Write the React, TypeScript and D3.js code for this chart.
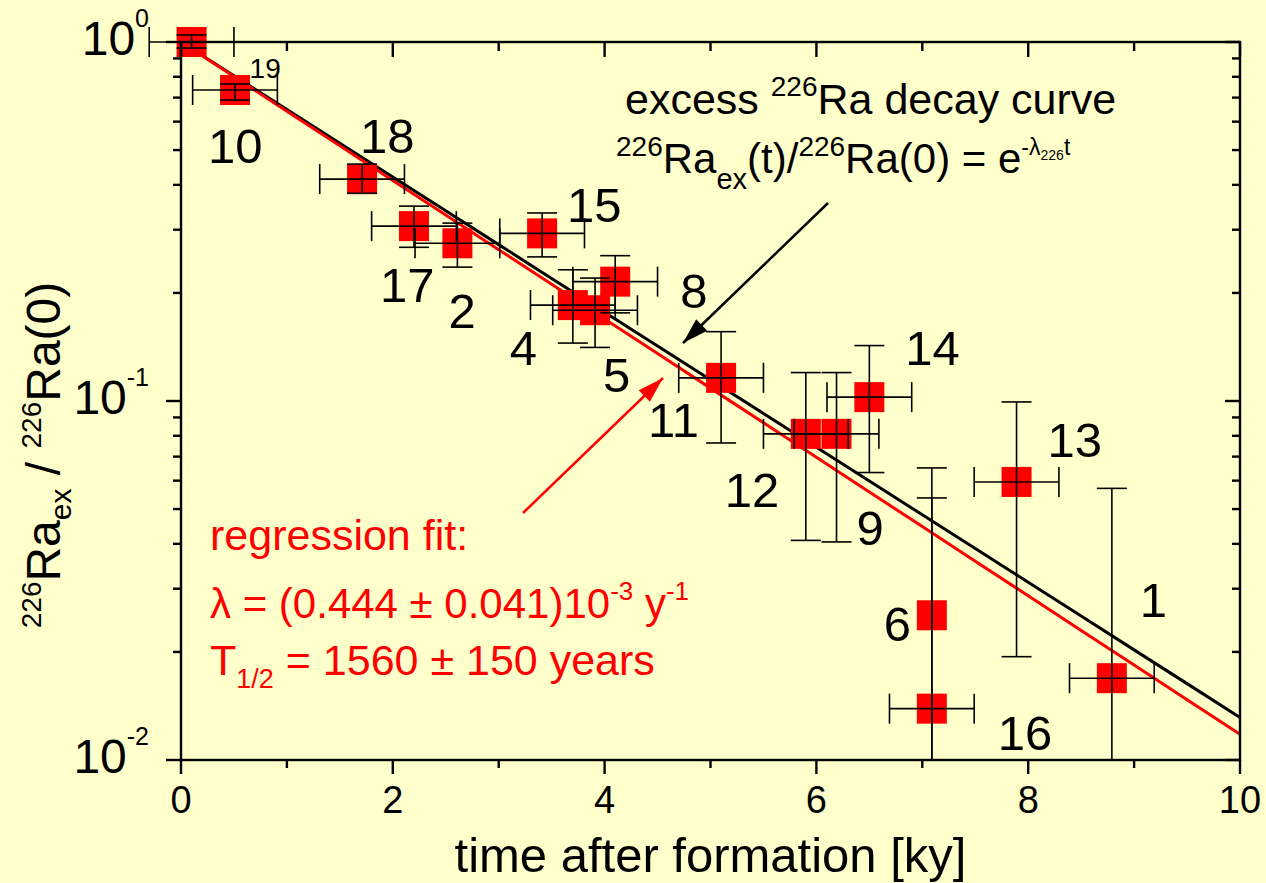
import React from "react";
import * as d3 from "d3";

// ---- data ----
const sampleIds = ["19", "10", "18", "17", "2", "15", "4", "5", "8", "11", "12", "9", "14", "13", "6", "16", "1"];
const ageKy = [0.1, 0.51, 1.71, 2.2, 2.61, 3.41, 3.7, 3.91, 4.1, 5.1, 5.9, 6.19, 6.5, 7.89, 7.09, 7.09, 8.79];
const ratio = [1.0, 0.735, 0.415, 0.307, 0.275, 0.293, 0.185, 0.179, 0.215, 0.116, 0.081, 0.081, 0.1025, 0.0595, 0.0253, 0.0139, 0.0169];
const ratioHigh = [1.046, 0.764, 0.457, 0.349, 0.313, 0.334, 0.232, 0.22, 0.254, 0.156, 0.12, 0.12, 0.1427, 0.0994, 0.0651, 0.0537, 0.0571];
const ratioLow = [0.962, 0.689, 0.379, 0.268, 0.236, 0.252, 0.145, 0.141, 0.176, 0.0764, 0.0409, 0.0405, 0.0632, 0.0194, 0.005, 0.005, 0.005];
const ageErr = [0.4, 0.4, 0.4, 0.4, 0.4, 0.4, 0.4, 0.4, 0.4, 0.4, 0.4, 0.4, 0.4, 0.4, 0, 0.4, 0.4];

const lambdaDecay = 0.4332; // per ky, 226Ra
const lambdaFit = 0.444; // per ky, regression
const curveT = d3.range(0, 10.001, 0.5);

const xMajor = [0, 2, 4, 6, 8, 10];
const xMinor = [1, 3, 5, 7, 9];
const yMajor = [1, 0.1, 0.01];
const yMajorExp = ["0", "-1", "-2"];

// label placement (pixel offsets from point centre)
const labelOffsets: [number, number][] = [
  [58, 36], [-27, 73], [-2, -26], [-34, 76], [-9, 85], [25, -11], [-63, 60], [8, 82], [65, 26],
  [-73, 59], [-81, 73], [20, 111], [36, -32], [31, -25], [-48, 26], [66, 41], [28, -61],
];

const FONT = "'Liberation Sans', Arial, Helvetica, sans-serif";
const W = 1266, H = 883;
const L = 181, R = 1240, T = 42, B = 760;

function arrowHead(x1: number, y1: number, x2: number, y2: number, len = 26, hw = 8) {
  const a = Math.atan2(y2 - y1, x2 - x1);
  const bx = x2 - len * Math.cos(a), by = y2 - len * Math.sin(a);
  const px = -Math.sin(a) * hw, py = Math.cos(a) * hw;
  return `M${x2},${y2}L${bx + px},${by + py}L${bx - px},${by - py}Z`;
}

export default function App() {
  const x = d3.scaleLinear().domain([0, 10]).range([L, R]);
  const y = d3.scaleLog().domain([0.01, 1]).range([B, T]);
  const yMinor = y.ticks().filter((v) => !yMajor.some((m) => Math.abs(m - v) < 1e-9));

  const lineGen = (lam: number) =>
    d3.line<number>().x((t) => x(t)).y((t) => y(Math.exp(-lam * t)))(curveT) || "";

  const clampY = (v: number) => Math.max(v, 0.01);

  const axisStroke = 2.4;
  const cap = 15;
  const half = 15;

  const blackArrow = [828, 203, 683, 343];
  const redArrow = [523, 513, 663, 378];

  return (
    <div style={{ position: "absolute", left: 0, top: 0 }}>
      <svg width={W} height={H} style={{ display: "block", background: "#FFFFCC" }} fontFamily={FONT}>
        <rect x={0} y={0} width={W} height={H} fill="#FFFFCC" />

        {/* fit lines */}
        <path d={lineGen(lambdaDecay)} stroke="#000" strokeWidth={3} fill="none" />
        <path d={lineGen(lambdaFit)} stroke="#ff0000" strokeWidth={3} fill="none" />

        {/* markers */}
        {ageKy.map((t, i) => (
          <rect key={"m" + i} x={x(t) - half} y={y(ratio[i]) - half} width={2 * half} height={2 * half} fill="#ff0000" />
        ))}

        {/* error bars */}
        {ageKy.map((t, i) => {
          const cx = x(t), cy = y(ratio[i]);
          const yh = y(clampY(ratioHigh[i])), yl = y(clampY(ratioLow[i]));
          const lowClipped = ratioLow[i] < 0.01;
          const xe = ageErr[i];
          return (
            <g key={"e" + i} stroke="#000" strokeWidth={1.6}>
              <line x1={cx} x2={cx} y1={yh} y2={yl} />
              <line x1={cx - cap} x2={cx + cap} y1={yh} y2={yh} />
              {!lowClipped && <line x1={cx - cap} x2={cx + cap} y1={yl} y2={yl} />}
              {xe > 0 && (
                <>
                  <line x1={x(t - xe)} x2={x(t + xe)} y1={cy} y2={cy} />
                  <line x1={x(t - xe)} x2={x(t - xe)} y1={cy - cap} y2={cy + cap} />
                  <line x1={x(t + xe)} x2={x(t + xe)} y1={cy - cap} y2={cy + cap} />
                </>
              )}
            </g>
          );
        })}

        {/* point labels */}
        {sampleIds.map((id, i) => (
          <text
            key={"l" + i}
            x={x(ageKy[i]) + labelOffsets[i][0]}
            y={y(ratio[i]) + labelOffsets[i][1]}
            fontSize={id === "19" ? 28 : 49}
            fill="#000"
          >
            {id}
          </text>
        ))}

        {/* frame */}
        <g stroke="#000" strokeWidth={axisStroke} fill="none">
          <rect x={L} y={T} width={R - L} height={B - T} />
          {xMajor.map((v) => (
            <g key={"xM" + v}>
              <line x1={x(v)} x2={x(v)} y1={B} y2={B + 14} />
              <line x1={x(v)} x2={x(v)} y1={T} y2={T + 15} />
            </g>
          ))}
          {xMinor.map((v) => (
            <g key={"xm" + v}>
              <line x1={x(v)} x2={x(v)} y1={B} y2={B + 8} />
              <line x1={x(v)} x2={x(v)} y1={T} y2={T + 9} />
            </g>
          ))}
          {yMajor.map((v) => (
            <g key={"yM" + v}>
              <line x1={L - 15} x2={L} y1={y(v)} y2={y(v)} />
              <line x1={R - 15} x2={R} y1={y(v)} y2={y(v)} />
            </g>
          ))}
          {yMinor.map((v) => (
            <g key={"ym" + v}>
              <line x1={L - 8} x2={L} y1={y(v)} y2={y(v)} />
              <line x1={R - 8} x2={R} y1={y(v)} y2={y(v)} />
            </g>
          ))}
        </g>

        {/* x tick labels */}
        {xMajor.map((v) => (
          <text key={"xt" + v} x={x(v)} y={B + 53} fontSize={38} textAnchor="middle" fill="#000">
            {v}
          </text>
        ))}
        {/* y tick labels */}
        {yMajor.map((v, i) => (
          <text key={"yt" + v} x={L - 32} y={y(v) + 13} textAnchor="end" fill="#000" fontSize={48}>
            10
            <tspan fontSize={25} dy={-28}>{yMajorExp[i]}</tspan>
          </text>
        ))}

        {/* axis titles */}
        <text x={(L + R) / 2} y={872} fontSize={49} textAnchor="middle" fill="#000">
          time after formation [ky]
        </text>
        <text transform={`translate(60,455) rotate(-90)`} textAnchor="middle" fontSize={48} fill="#000">
          <tspan fontSize={28} dy={-19}>226</tspan>
          <tspan dy={19}>Ra</tspan>
          <tspan fontSize={30} dy={11}>ex</tspan>
          <tspan dy={-11}> / </tspan>
          <tspan fontSize={28} dy={-19}>226</tspan>
          <tspan dy={19}>Ra(0)</tspan>
        </text>

        {/* black annotation */}
        <text x={625} y={114} fontSize={43} fill="#000">
          excess <tspan fontSize={28} dy={-18}>226</tspan>
          <tspan dy={18}>Ra decay curve</tspan>
        </text>
        <text x={616} y={173} fontSize={42} fill="#000">
          <tspan fontSize={28} dy={-17}>226</tspan>
          <tspan dy={17}>Ra</tspan>
          <tspan fontSize={29} dy={16}>ex</tspan>
          <tspan dy={-16}>(t)/</tspan>
          <tspan fontSize={28} dy={-17}>226</tspan>
          <tspan dy={17}>Ra(0) = e</tspan>
          <tspan fontSize={23} dy={-18}>-λ</tspan>
          <tspan fontSize={14} dy={5}>226</tspan>
          <tspan fontSize={23} dy={-5}>t</tspan>
        </text>
        <path d={`M${blackArrow[0]},${blackArrow[1]}L${blackArrow[2]},${blackArrow[3]}`} stroke="#000" strokeWidth={2.5} />
        <path d={arrowHead(blackArrow[0], blackArrow[1], blackArrow[2], blackArrow[3])} fill="#000" />

        {/* red annotation */}
        <path d={`M${redArrow[0]},${redArrow[1]}L${redArrow[2]},${redArrow[3]}`} stroke="#ff0000" strokeWidth={2.5} />
        <path d={arrowHead(redArrow[0], redArrow[1], redArrow[2], redArrow[3])} fill="#ff0000" />
        <text x={210} y={550} fontSize={43} fill="#ff0000">regression fit:</text>
        <text x={210} y={618} fontSize={42} fill="#ff0000">
          λ = (0.444 ± 0.041)10
          <tspan fontSize={26} dy={-18}>-3</tspan>
          <tspan dy={18}> y</tspan>
          <tspan fontSize={26} dy={-18}>-1</tspan>
        </text>
        <text x={210} y={675} fontSize={43} fill="#ff0000">
          T<tspan fontSize={27} dy={13}>1/2</tspan>
          <tspan dy={-13}> = 1560 ± 150 years</tspan>
        </text>
      </svg>
    </div>
  );
}
